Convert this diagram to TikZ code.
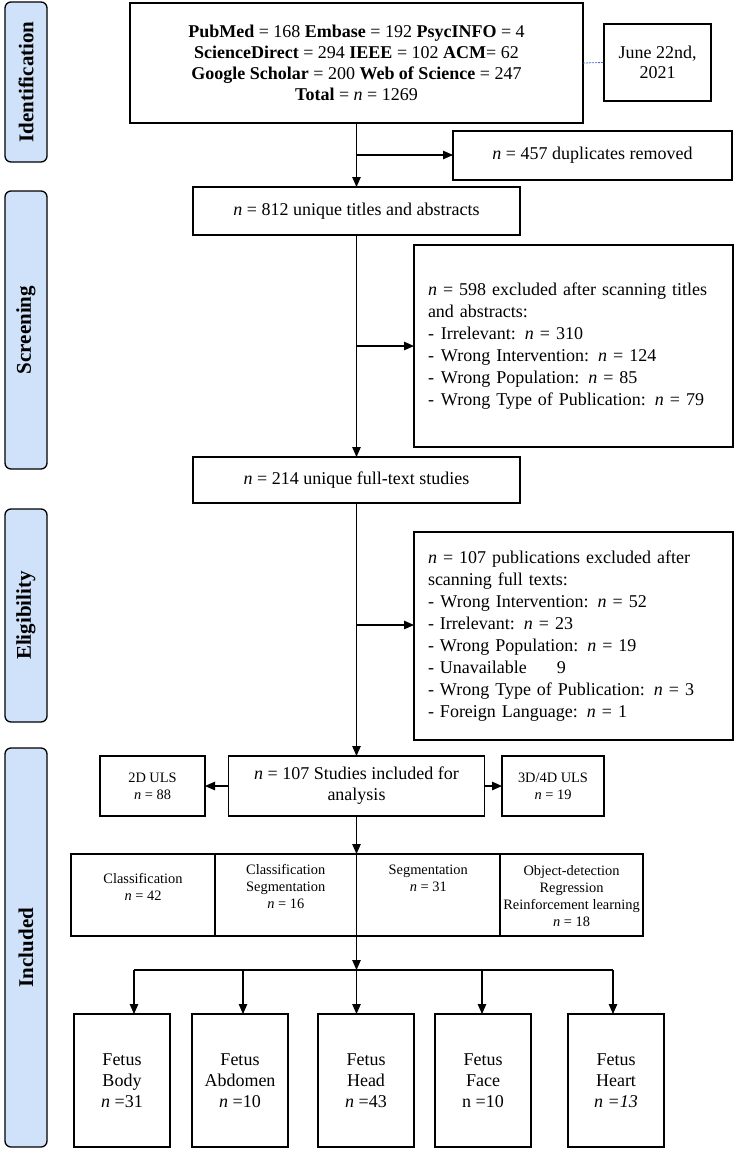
\documentclass[tikz,border=0pt]{standalone}
\usepackage{fontspec}
\setmainfont{Liberation Serif}
\usetikzlibrary{arrows.meta}
\definecolor{labfill}{RGB}{207,226,250}
\definecolor{dashblue}{RGB}{68,114,196}
\begin{document}
\begin{tikzpicture}[x=1pt,y=-1pt,
  box/.style={draw, line width=1.3pt, inner sep=0pt, outer sep=0pt, align=center, font=\fontsize{18}{21}\selectfont},
  sbox/.style={box, font=\fontsize{14.4}{17}\selectfont},
  exbox/.style={draw, line width=1.3pt, outer sep=0pt, inner ysep=0pt, inner xsep=14pt, text width=291pt, align=left, minimum width=319pt, font=\fontsize{18}{22}\selectfont},
  lab/.style={draw, line width=1.3pt, fill=labfill, rounded corners=6pt, rotate=90, minimum height=42pt, inner sep=0pt, outer sep=0pt, font=\fontsize{21}{24}\selectfont\bfseries},
  conn/.style={line width=1.1pt, -{Triangle[length=10pt,width=8.5pt]}},
  plainline/.style={line width=1.1pt},
  dline/.style={line width=0.8pt, dashblue, dash pattern=on 2pt off 1pt},
  txt/.style={inner sep=0pt, align=center, font=\fontsize{14.4}{17}\selectfont}
]
\useasboundingbox (0,0) rectangle (736,1149);

% stage labels
\node[lab, minimum width=160pt] (Lid) at (26,82) {Identification};
\node[lab, minimum width=278pt] (Lsc) at (26,330) {Screening};
\node[lab, minimum width=213pt] (Lel) at (26,615.5) {Eligibility};
\node[lab, minimum width=399pt] (Lin) at (26,947.5) {Included};

% identification
\node[box, minimum width=453pt, minimum height=120pt] (src) at (356.5,63)
 {\textbf{PubMed} = 168 \textbf{Embase} = 192 \textbf{PsycINFO} = 4\\
  \textbf{ScienceDirect} = 294 \textbf{IEEE} = 102 \textbf{ACM}= 62\\
  \textbf{Google Scholar} = 200 \textbf{Web of Science} = 247\\
  \textbf{Total} = \textit{n} = 1269};
\node[box, minimum width=107pt, minimum height=77pt, font=\fontsize{18}{20}\selectfont] (date) at (657.5,62.5) {June 22nd,\\2021};
\node[box, minimum width=279pt, minimum height=49pt] (dup) at (592.5,155.5) {\textit{n} = 457 duplicates removed};

% screening
\node[box, minimum width=327pt, minimum height=48pt] (uniq) at (356.5,211) {\textit{n} = 812 unique titles and abstracts};
\node[exbox, minimum height=202pt] (ex1) at (573.5,346)
 {\textit{n} = 598 excluded after scanning titles\\
  and abstracts:\\
  -\hspace{7pt}Irrelevant: \textit{n} = 310\\
  -\hspace{7pt}Wrong Intervention: \textit{n} = 124\\
  -\hspace{7pt}Wrong Population: \textit{n} = 85\\
  -\hspace{7pt}Wrong Type of Publication: \textit{n} = 79};

% eligibility
\node[box, minimum width=327pt, minimum height=46pt] (full) at (356.5,480) {\textit{n} = 214 unique full-text studies};
\node[exbox, minimum height=208pt] (ex2) at (573.5,636)
 {\textit{n} = 107 publications excluded after\\
  scanning full texts:\\
  -\hspace{6.5pt}Wrong Intervention: \textit{n} = 52\\
  - Irrelevant: \textit{n} = 23\\
  - Wrong Population: \textit{n} = 19\\
  - Unavailable\hspace{30pt}9\\
  - Wrong Type of Publication: \textit{n} = 3\\
  - Foreign Language: \textit{n} = 1};

% included
\node[box, minimum width=256pt, minimum height=60pt, font=\fontsize{18}{21}\selectfont] (incl) at (356.5,786) {\textit{n} = 107 Studies included for\\analysis};
\node[sbox, minimum width=105pt, minimum height=60pt] (d2) at (152.5,786) {2D ULS\\\textit{n} = 88};
\node[sbox, minimum width=102pt, minimum height=60pt] (d3) at (553,786) {3D/4D ULS\\\textit{n} = 19};

\node[box, minimum width=144pt, minimum height=82pt] (c1) at (143,895) {};
\node[box, minimum width=141.5pt, minimum height=82pt] (c2) at (285.75,895) {};
\node[box, minimum width=143.5pt, minimum height=82pt] (c3) at (428.25,895) {};
\node[box, minimum width=143pt, minimum height=82pt] (c4) at (571.5,895) {};
\node[txt] (t1) at (143,886.5) {Classification\\\textit{n} = 42};
\node[txt] (t2) at (285.75,886.5) {Classification\\Segmentation\\\textit{n} = 16};
\node[txt] (t3) at (428.25,878.5) {Segmentation\\\textit{n} = 31};
\node[txt] (t4) at (571.5,896) {Object-detection\\Regression\\Reinforcement learning\\\textit{n} = 18};

\node[box, minimum width=96pt, minimum height=133pt] (f1) at (122,1080.5) {Fetus\\Body\\\textit{n} =31};
\node[box, minimum width=96pt, minimum height=133pt] (f2) at (240,1080.5) {Fetus\\Abdomen\\\textit{n} =10};
\node[box, minimum width=96pt, minimum height=133pt] (f3) at (366,1080.5) {Fetus\\Head\\\textit{n} =43};
\node[box, minimum width=96pt, minimum height=133pt] (f4) at (483,1080.5) {Fetus\\Face\\n =10};
\node[box, minimum width=96pt, minimum height=133pt] (f5) at (616,1080.5) {Fetus\\Heart\\\textit{n =13}};

% connectors
\draw[dline] (src.east) -- (date.west);
\coordinate (b1) at (356.5,155);
\coordinate (b2) at (356.5,346);
\coordinate (b3) at (356.5,625);
\draw[conn] (src.south) -- (uniq.north);
\draw[conn] (b1) -- (b1 -| dup.west);
\draw[conn] (uniq.south) -- (full.north);
\draw[conn] (b2) -- (ex1.west);
\draw[conn] (full.south) -- (incl.north);
\draw[conn] (b3) -- (b3 -| ex2.west);
\draw[conn] (incl.west) -- (d2.east);
\draw[conn] (incl.east) -- (d3.west);
\draw[conn] (incl.south) -- (c3.north west);

\coordinate (a1) at (134,970);
\coordinate (a2) at (243,970);
\coordinate (a3) at (356.5,970);
\coordinate (a4) at (482,970);
\coordinate (a5) at (613,970);
\draw[conn] (c3.south west) -- (a3);
\draw[plainline] (a1) -- (a5);
\draw[conn] (a1) -- (a1 |- f1.north);
\draw[conn] (a2) -- (a2 |- f2.north);
\draw[conn] (a3) -- (a3 |- f3.north);
\draw[conn] (a4) -- (a4 |- f4.north);
\draw[conn] (a5) -- (a5 |- f5.north);
\end{tikzpicture}
\end{document}
